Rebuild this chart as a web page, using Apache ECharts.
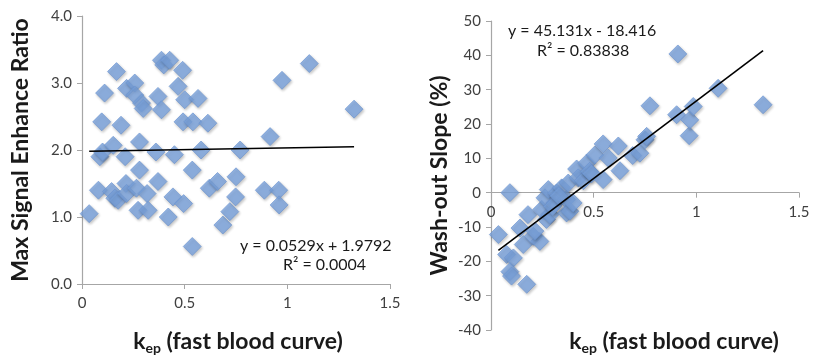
<!DOCTYPE html>
<html>
<head>
<meta charset="utf-8">
<script src="https://cdn.jsdelivr.net/npm/echarts@6/dist/echarts.min.js"></script>
<style>
  html, body { margin: 0; padding: 0; background: #fff; }
  #chart { width: 814px; height: 362px; }
</style>
</head>
<body>
<div id="chart"></div>
<script>
// left panel: kep vs max signal enhance ratio
const enhancePoints = [
  [0.035, 1.05], [0.08, 1.40], [0.087, 1.90], [0.10, 1.97], [0.096, 2.42], [0.11, 2.85],
  [0.152, 2.07], [0.144, 1.38], [0.16, 1.28], [0.176, 1.25], [0.168, 3.17], [0.19, 2.37],
  [0.21, 1.90], [0.214, 1.50], [0.217, 1.35], [0.217, 2.92], [0.257, 3.00], [0.257, 2.82],
  [0.265, 1.43], [0.273, 1.10], [0.28, 2.12], [0.28, 1.70], [0.29, 2.70], [0.298, 2.62],
  [0.317, 1.35], [0.322, 1.10], [0.36, 1.97], [0.37, 1.53], [0.37, 2.80], [0.387, 2.60],
  [0.387, 3.34], [0.398, 3.27], [0.427, 3.34], [0.42, 1.00], [0.443, 1.30], [0.45, 1.93],
  [0.468, 2.95], [0.49, 3.19], [0.492, 2.42], [0.495, 1.20], [0.50, 2.75], [0.537, 0.56],
  [0.537, 1.70], [0.54, 2.42], [0.565, 2.77], [0.58, 2.00], [0.613, 2.40], [0.62, 1.43],
  [0.66, 1.53], [0.686, 0.88], [0.72, 1.08], [0.748, 1.30], [0.75, 1.60], [0.77, 2.00],
  [0.888, 1.40], [0.916, 2.20], [0.958, 1.40], [0.96, 1.18], [0.974, 3.04], [1.107, 3.29],
  [1.325, 2.61]
]
const enhanceTrend = [[0.035, 1.981], [1.325, 2.049]]

// right panel: kep vs wash-out slope
const washoutPoints = [
  [0.036, -12.2], [0.092, 0.0], [0.076, -18.0], [0.109, -19.0], [0.092, -23.0], [0.10, -24.3],
  [0.174, -26.7], [0.141, -10.3], [0.157, -15.1], [0.18, -6.4], [0.206, -12.7], [0.238, -14.2],
  [0.214, -11.2], [0.247, -4.9], [0.27, -7.8], [0.287, -6.4], [0.263, -1.5], [0.279, 0.9],
  [0.311, -3.0], [0.32, -0.1], [0.344, 1.4], [0.368, -2.0], [0.368, -5.9], [0.384, -5.4],
  [0.376, 2.8], [0.40, -3.0], [0.30, -4.0], [0.33, -1.0], [0.417, 6.9], [0.425, 4.3],
  [0.45, 3.5], [0.466, 8.6], [0.48, 6.2], [0.49, 5.5], [0.506, 11.0], [0.546, 14.2],
  [0.571, 10.1], [0.546, 3.8], [0.62, 13.6], [0.628, 6.4], [0.69, 10.8], [0.725, 11.5],
  [0.75, 15.4], [0.758, 16.4], [0.774, 25.3], [0.904, 22.7], [0.91, 40.4], [0.965, 16.6],
  [0.968, 21.2], [0.985, 25.1], [1.106, 30.4], [1.325, 25.6]
]
const washoutTrend = [[0.036, -16.8], [1.325, 41.4]]

const leftEquation = ["y = 0.0529x + 1.9792", "R² = 0.0004"]
const rightEquation = ["y = 45.131x - 18.416", "R² = 0.83838"]
const xTitle = ["k", "ep", " (fast blood curve)"]

const chart = echarts.init(document.getElementById("chart"))

const font = "Lato, 'Open Sans', sans-serif"
const axisGray = "#a6a6a6"
const labelColor = "#404040"

const diamond = {
  type: "scatter",
  symbol: "diamond",
  symbolSize: [18, 18],
  itemStyle: {
    color: "#7ca5e0",
    borderColor: "#6a92cf",
    borderWidth: 0.8,
    shadowColor: "rgba(0,0,0,0.3)",
    shadowBlur: 3,
    shadowOffsetX: 1,
    shadowOffsetY: 1.5,
  },
  z: 2,
}

const trendLine = {
  type: "line",
  symbol: "none",
  lineStyle: { color: "#000", width: 1.6 },
  z: 3,
  silent: true,
}

const baseX = {
  type: "value",
  min: 0,
  max: 1.5,
  interval: 0.5,
  splitLine: { show: false },
  axisLine: { onZero: false, lineStyle: { color: axisGray, width: 1.2 } },
  axisTick: { show: true, length: 5, lineStyle: { color: axisGray } },
  axisLabel: { color: labelColor, fontFamily: font, fontSize: 15, margin: 12 },
}

// right grid: 50 at top, -40 at bottom, so the zero line sits 40/90 of the height above the bottom
const rightGrid = { left: 491, top: 21, width: 308, height: 309 }
const zeroOffset = -rightGrid.height * 40 / 90

const option = {
  animation: false,
  grid: [
    { left: 82, top: 16, width: 308, height: 268 },
    rightGrid,
  ],
  xAxis: [
    Object.assign({ gridIndex: 0 }, baseX),
    Object.assign({ gridIndex: 1, offset: zeroOffset }, baseX),
  ],
  yAxis: [
    {
      gridIndex: 0,
      type: "value",
      min: 0,
      max: 4,
      interval: 1,
      splitLine: { show: false },
      axisLine: { show: true, lineStyle: { color: axisGray, width: 1.2 } },
      axisTick: { show: true, length: 5, lineStyle: { color: axisGray } },
      axisLabel: { color: labelColor, fontFamily: font, fontSize: 15, margin: 10, formatter: (v) => v.toFixed(1) },
      name: "Max Signal Enhance Ratio",
      nameLocation: "middle",
      nameRotate: 90,
      nameGap: 50,
      nameTextStyle: { color: "#1a1a1a", fontFamily: font, fontSize: 23, fontWeight: "bold" },
    },
    {
      gridIndex: 1,
      type: "value",
      min: -40,
      max: 50,
      interval: 10,
      splitLine: { show: false },
      axisLine: { show: true, onZero: false, lineStyle: { color: axisGray, width: 1.2 } },
      axisTick: { show: true, length: 5, lineStyle: { color: axisGray } },
      axisLabel: { color: labelColor, fontFamily: font, fontSize: 15, margin: 10 },
      name: "Wash-out Slope (%)",
      nameLocation: "middle",
      nameRotate: 90,
      nameGap: 40,
      nameTextStyle: { color: "#1a1a1a", fontFamily: font, fontSize: 23, fontWeight: "bold" },
    },
  ],
  series: [
    Object.assign({}, diamond, { xAxisIndex: 0, yAxisIndex: 0, data: enhancePoints }),
    Object.assign({}, trendLine, { xAxisIndex: 0, yAxisIndex: 0, data: enhanceTrend }),
    Object.assign({}, diamond, { xAxisIndex: 1, yAxisIndex: 1, data: washoutPoints }),
    Object.assign({}, trendLine, { xAxisIndex: 1, yAxisIndex: 1, data: washoutTrend }),
  ],
  graphic: [
    // regression equations
    { type: "text", left: 240, top: 238, z: 10, style: { text: leftEquation[0], fill: "#1a1a1a", font: "16px " + font } },
    { type: "text", left: 283, top: 257, z: 10, style: { text: leftEquation[1], fill: "#1a1a1a", font: "16px " + font } },
    { type: "text", left: 508, top: 23, z: 10, style: { text: rightEquation[0], fill: "#1a1a1a", font: "16px " + font } },
    { type: "text", left: 537, top: 43, z: 10, style: { text: rightEquation[1], fill: "#1a1a1a", font: "16px " + font } },
    // x axis titles with subscript
    ...[238, 674].map((cx) => ({
      type: "text",
      x: cx,
      y: 342,
      style: {
        text: "{k|" + xTitle[0] + "}{s|" + xTitle[1] + "}{k|" + xTitle[2] + "}",
        align: "center",
        verticalAlign: "middle",
        rich: {
          k: { fontFamily: font, fontSize: 23, fontWeight: "bold", fill: "#1a1a1a" },
          s: { fontFamily: font, fontSize: 14, fontWeight: "bold", fill: "#1a1a1a", padding: [12, 0, 0, 0] },
        },
      },
    })),
  ],
}

chart.setOption(option)

window.addEventListener("resize", () => chart.resize())
</script>
</body>
</html>
